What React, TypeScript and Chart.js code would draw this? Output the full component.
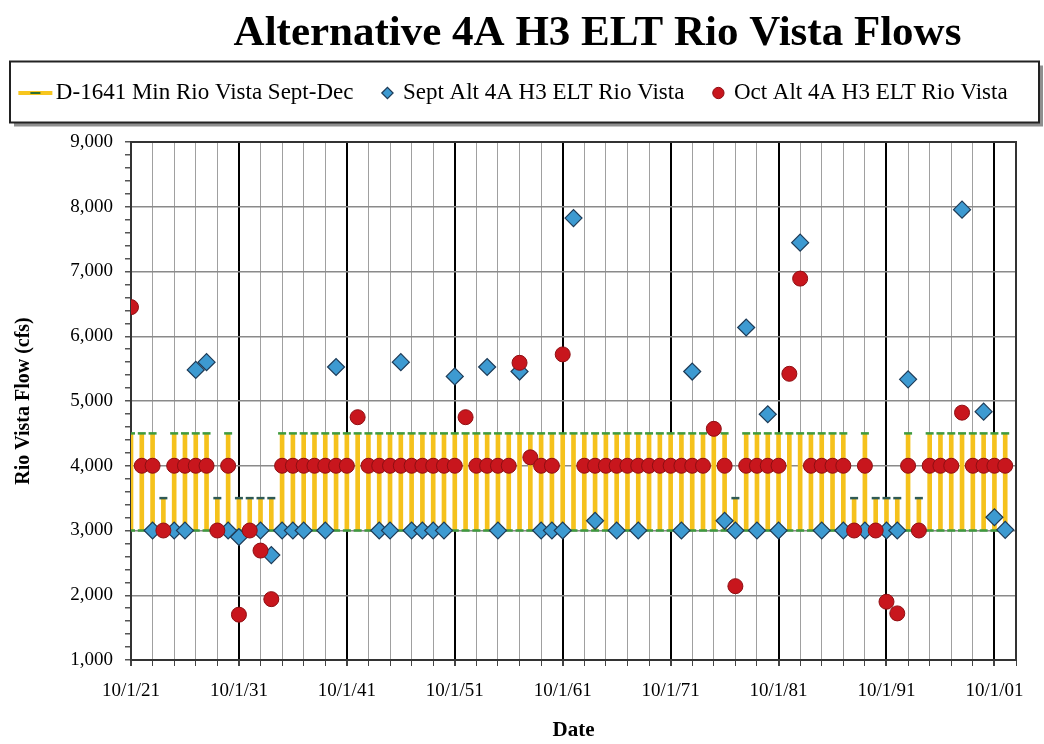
import React, { useEffect, useRef } from 'react';
import { Chart, registerables } from 'chart.js';

Chart.register(...registerables);

// Water years: points are plotted on 10/1 of each year
const years = [
  1921, 1922, 1923, 1924, 1925, 1926, 1927, 1928, 1929, 1930,
  1931, 1932, 1933, 1934, 1935, 1936, 1937, 1938, 1939, 1940,
  1941, 1942, 1943, 1944, 1945, 1946, 1947, 1948, 1949, 1950,
  1951, 1952, 1953, 1954, 1955, 1956, 1957, 1958, 1959, 1960,
  1961, 1962, 1963, 1964, 1965, 1966, 1967, 1968, 1969, 1970,
  1971, 1972, 1973, 1974, 1975, 1976, 1977, 1978, 1979, 1980,
  1981, 1982, 1983, 1984, 1985, 1986, 1987, 1988, 1989, 1990,
  1991, 1992, 1993, 1994, 1995, 1996, 1997, 1998, 1999, 2000,
  2001, 2002,
];

const septFlow: (number | null)[] = [
  null, null, 3000, null, 3000, 3000, 5480, 5600, null, 3000,
  2900, null, 3000, 2620, 3000, 3000, 3000, null, 3000, 5525,
  null, null, null, 3000, 3000, 5600, 3000, 3000, 3000, 3000,
  5380, null, null, 5525, 3000, null, 5455, null, 3000, 3000,
  3000, 7825, null, 3150, null, 3000, null, 3000, null, null,
  null, 3000, 5455, null, null, 3150, 3000, 6135, 3000, 4795,
  3000, null, 7445, null, 3000, null, 3000, null, 3000, null,
  3000, 3000, 5335, null, null, null, null, 7955, null, 4835,
  3205, 3010,
];

const octFlow: (number | null)[] = [
  6450, 4000, 4000, 3000, 4000, 4000, 4000, 4000, 3000, 4000,
  1700, 3000, 2690, 1940, 4000, 4000, 4000, 4000, 4000, 4000,
  4000, 4750, 4000, 4000, 4000, 4000, 4000, 4000, 4000, 4000,
  4000, 4750, 4000, 4000, 4000, 4000, 5590, 4130, 4000, 4000,
  5720, null, 4000, 4000, 4000, 4000, 4000, 4000, 4000, 4000,
  4000, 4000, 4000, 4000, 4570, 4000, 2140, 4000, 4000, 4000,
  4000, 5420, 6890, 4000, 4000, 4000, 4000, 3000, 4000, 3000,
  1900, 1720, 4000, 3000, 4000, 4000, 4000, 4820, 4000, 4000,
  4000, 4000,
];

const d1641Low = [
  3000, 3000, 3000, 3000, 3000, 3000, 3000, 3000, 3000, 3000,
  3000, 3000, 3000, 3000, 3000, 3000, 3000, 3000, 3000, 3000,
  3000, 3000, 3000, 3000, 3000, 3000, 3000, 3000, 3000, 3000,
  3000, 3000, 3000, 3000, 3000, 3000, 3000, 3000, 3000, 3000,
  3000, 3000, 3000, 3000, 3000, 3000, 3000, 3000, 3000, 3000,
  3000, 3000, 3000, 3000, 3000, 3000, 3000, 3000, 3000, 3000,
  3000, 3000, 3000, 3000, 3000, 3000, 3000, 3000, 3000, 3000,
  3000, 3000, 3000, 3000, 3000, 3000, 3000, 3000, 3000, 3000,
  3000, 3000,
];

const d1641High = [
  4500, 4500, 4500, 3500, 4500, 4500, 4500, 4500, 3500, 4500,
  3500, 3500, 3500, 3500, 4500, 4500, 4500, 4500, 4500, 4500,
  4500, 4500, 4500, 4500, 4500, 4500, 4500, 4500, 4500, 4500,
  4500, 4500, 4500, 4500, 4500, 4500, 4500, 4500, 4500, 4500,
  4500, 4500, 4500, 4500, 4500, 4500, 4500, 4500, 4500, 4500,
  4500, 4500, 4500, 4500, 4500, 4500, 3500, 4500, 4500, 4500,
  4500, 4500, 4500, 4500, 4500, 4500, 4500, 3500, 4500, 3500,
  3500, 3500, 4500, 3500, 4500, 4500, 4500, 4500, 4500, 4500,
  4500, 4500,
];

const xTickLabels = ['10/1/21', '10/1/31', '10/1/41', '10/1/51', '10/1/61', '10/1/71', '10/1/81', '10/1/91', '10/1/01'];

const TITLE = 'Alternative 4A H3 ELT Rio Vista Flows';
const SERIES = ['D-1641 Min Rio Vista Sept-Dec', 'Sept Alt 4A H3 ELT Rio Vista', 'Oct Alt 4A H3 ELT Rio Vista'];
const Y_TITLE = 'Rio Vista Flow (cfs)';
const X_TITLE = 'Date';

const OCT1 = 0.75; // fraction of a year at October 1
const X_MIN = 1921 + OCT1;
const X_MAX = 2003 + OCT1;

const SERIF = '"Liberation Serif", "Times New Roman", serif';

export default function App() {
  const ref = useRef<HTMLCanvasElement>(null);

  useEffect(() => {
    document.body.style.margin = '0';
    const canvas = ref.current;
    if (!canvas) return;

    // legend swatch for the D-1641 series: yellow line with a green dash
    const swatch = document.createElement('canvas');
    swatch.width = 68;
    swatch.height = 10;
    const sctx = swatch.getContext('2d')!;
    sctx.fillStyle = '#F7C61E';
    sctx.fillRect(12, 3, 34, 4);
    sctx.fillStyle = '#2F6F2F';
    sctx.fillRect(24, 4, 10, 2);

    const xs = years.map((y) => y + OCT1);
    const barData = xs.map((x, i) => ({ x, y: [d1641Low[i], d1641High[i]] }));
    const dashData = [
      ...xs.map((x, i) => ({ x, y: d1641High[i] })),
      ...xs.map((x, i) => ({ x, y: d1641Low[i] })),
    ];
    const septData = xs.map((x, i) => ({ x, y: septFlow[i] }));
    const octData = xs.map((x, i) => ({ x, y: octFlow[i] }));

    const decoPlugin = {
      id: 'deco',
      beforeDraw(chart: any) {
        const { ctx, legend } = chart;
        if (!legend) return;
        const l = 10;
        const r = chart.width - 5;
        const t = legend.top + 10;
        const b = legend.top + 71;
        ctx.save();
        ctx.fillStyle = '#8f8f8f';
        ctx.fillRect(l + 4, t + 4, r - l, b - t);
        ctx.fillStyle = '#ffffff';
        ctx.fillRect(l, t, r - l, b - t);
        ctx.strokeStyle = '#222';
        ctx.lineWidth = 2;
        ctx.strokeRect(l, t, r - l, b - t);
        ctx.restore();
      },
      afterDraw(chart: any) {
        const { ctx, chartArea } = chart;
        ctx.save();
        ctx.font = `bold 43px ${SERIF}`;
        ctx.fillStyle = '#000';
        ctx.textAlign = 'center';
        ctx.textBaseline = 'alphabetic';
        ctx.fillText(TITLE, (chartArea.left + chartArea.right) / 2 + 24, 45);
        ctx.restore();
      },
    };

    const chart = new Chart(canvas, {
      type: 'scatter',
      data: {
        datasets: [
          {
            type: 'bar',
            label: SERIES[0],
            data: barData as any,
            backgroundColor: '#F5C21C',
            borderWidth: 0,
            barThickness: 4,
            grouped: false,
            order: 3,
            xAxisID: 'x',
            yAxisID: 'y',
          } as any,
          {
            type: 'scatter',
            label: SERIES[1],
            data: septData as any,
            pointStyle: 'rectRot',
            pointRadius: 8.5,
            backgroundColor: '#3D9AD1',
            borderColor: '#1E3B57',
            borderWidth: 1.2,
            order: 1,
          },
          {
            type: 'scatter',
            label: SERIES[2],
            data: octData as any,
            pointStyle: 'circle',
            pointRadius: 7.5,
            backgroundColor: '#C8161D',
            borderColor: '#8E0E12',
            borderWidth: 1,
            order: 0,
          },
          {
            type: 'scatter',
            label: 'standard markers',
            data: dashData as any,
            pointStyle: 'line',
            pointRadius: 4,
            borderColor: (ctx: any) => (ctx.raw && ctx.raw.y === 3500 ? '#2E5A55' : '#3F9A3F'),
            borderWidth: 2.5,
            order: 2,
          },
        ],
      },
      options: {
        animation: false,
        responsive: false,
        events: [],
        layout: { padding: { top: 51.5, left: 0, right: 0, bottom: 0 } },
        font: { family: SERIF },
        plugins: {
          title: { display: false },
          tooltip: { enabled: false },
          legend: {
            display: true,
            position: 'top',
            labels: {
              font: { family: SERIF, size: 23 },
              color: '#000',
              usePointStyle: true,
              boxWidth: 8,
              boxHeight: 8,
              padding: 30,
              filter: (item: any) => item.datasetIndex !== 3,
              sort: (a: any, b: any) => a.datasetIndex - b.datasetIndex,
              generateLabels: (ch: any) => {
                const items = (Chart.defaults.plugins.legend.labels as any).generateLabels(ch);
                return items.map((it: any) =>
                  it.datasetIndex === 0 ? { ...it, pointStyle: swatch, lineWidth: 0 } : it,
                );
              },
            },
          },
        },
        scales: {
          x: {
            type: 'linear',
            position: 'bottom',
            min: X_MIN,
            max: X_MAX,
            offset: false,
            afterBuildTicks: (scale: any) => {
              const t = [];
              for (let k = 0; X_MIN + 2 * k <= X_MAX + 1e-6; k++) t.push({ value: X_MIN + 2 * k });
              scale.ticks = t;
            },
            afterFit: (scale: any) => {
              scale.height = 84;
            },
            ticks: {
              autoSkip: false,
              maxRotation: 0,
              minRotation: 0,
              padding: 14,
              color: '#000',
              font: { family: SERIF, size: 19 },
              callback: (_v: any, index: number) => (index % 5 === 0 ? xTickLabels[index / 5] ?? '' : ''),
            },
            grid: {
              offset: false,
              color: (ctx: any) =>
                ctx.tick && Math.round(ctx.tick.value - X_MIN) % 10 === 0 ? '#000000' : '#a0a0a0',
              lineWidth: (ctx: any) =>
                ctx.tick && Math.round(ctx.tick.value - X_MIN) % 10 === 0 ? 2 : 1,
              tickColor: '#444',
              tickLength: 6,
            },
            border: { display: true, color: '#333', width: 2 },
            title: {
              display: true,
              text: X_TITLE,
              color: '#000',
              font: { family: SERIF, size: 21, weight: 'bold' },
              padding: { top: 0, bottom: 1 },
            },
          },
          x2: {
            type: 'linear',
            position: 'top',
            display: true,
            grid: { display: false, drawTicks: false },
            ticks: { display: false },
            border: { display: true, color: '#333', width: 2 },
            afterFit: (scale: any) => {
              scale.height = 27.5;
            },
          },
          y: {
            type: 'linear',
            position: 'left',
            min: 1000,
            max: 9000,
            beginAtZero: false,
            afterFit: (scale: any) => {
              scale.width = 131;
            },
            ticks: {
              stepSize: 200,
              autoSkip: false,
              padding: 12,
              color: '#000',
              font: { family: SERIF, size: 19 },
              callback: (v: any) => (Number(v) % 1000 === 0 ? Number(v).toLocaleString('en-US') : ''),
            },
            grid: {
              color: (ctx: any) => (ctx.tick && ctx.tick.value % 1000 === 0 ? '#8a8a8a' : 'rgba(0,0,0,0)'),
              lineWidth: 1.5,
              tickColor: '#555',
              tickLength: 6,
            },
            border: { display: true, color: '#333', width: 2 },
            title: {
              display: true,
              text: Y_TITLE,
              color: '#000',
              font: { family: SERIF, size: 20, weight: 'bold' },
              padding: { top: 12, bottom: 0 },
            },
          },
          y2: {
            type: 'linear',
            position: 'right',
            display: true,
            grid: { display: false, drawTicks: false },
            ticks: { display: false },
            border: { display: true, color: '#333', width: 2 },
            afterFit: (scale: any) => {
              scale.width = 28;
            },
          },
        },
      } as any,
      plugins: [decoPlugin],
    });

    return () => {
      chart.destroy();
    };
  }, []);

  return (
    <div style={{ width: 1044, height: 744 }}>
      <canvas ref={ref} width={1044} height={744} style={{ display: 'block', width: 1044, height: 744 }} />
    </div>
  );
}
